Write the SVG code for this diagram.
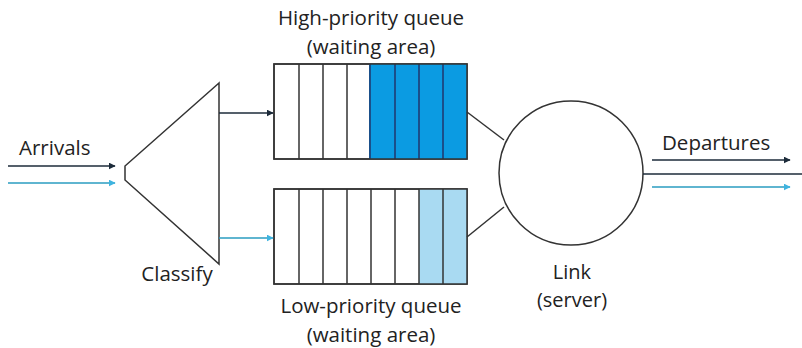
<svg xmlns="http://www.w3.org/2000/svg" width="802" height="348" viewBox="0 0 802 348">
<defs>
<style>
text{font-family:"Open Sans","Liberation Sans",sans-serif;font-size:20.5px;fill:#222}
.c{text-anchor:middle}
.q{font-size:20.5px}
.s{font-size:20px}
.box{fill:#fff;stroke:#333;stroke-width:1.5}
.dk{stroke:#1c2b3a;stroke-width:1.5;fill:none}
.bl{stroke:#2a9cc0;stroke-width:1.5;fill:none}
.sh{stroke:#333;stroke-width:1.5;fill:none}
</style>
<marker id="ad" viewBox="0 0 10 10" refX="9" refY="5" markerWidth="7" markerHeight="7" orient="auto" markerUnits="userSpaceOnUse">
<path d="M0,0 L10,5 L0,10 z" fill="#1c2b3a"/>
</marker>
<marker id="ab" viewBox="0 0 10 10" refX="9" refY="5" markerWidth="7" markerHeight="7" orient="auto" markerUnits="userSpaceOnUse">
<path d="M0,0 L10,5 L0,10 z" fill="#3fb4e0"/>
</marker>
</defs>
<rect width="802" height="348" fill="#fff"/>

<g id="classify">
<path class="sh" d="M219,83 L125,166 L125,180 L219,264 Z"/>
<text class="c" x="177" y="281">Classify</text>
</g>

<g id="high-queue">
<rect class="box" x="274" y="64" width="193" height="95"/>
<rect x="370" y="64" width="97" height="95" fill="#0b9be2"/>
<g class="sh">
<line x1="299" y1="64" x2="299" y2="159"/>
<line x1="323" y1="64" x2="323" y2="159"/>
<line x1="347" y1="64" x2="347" y2="159"/>
</g>
<g stroke="#1a4f8a" stroke-width="2">
<line x1="370" y1="64" x2="370" y2="159"/>
<line x1="395" y1="64" x2="395" y2="159"/>
<line x1="419" y1="64" x2="419" y2="159"/>
<line x1="443" y1="64" x2="443" y2="159"/>
</g>
<rect x="274" y="64" width="193" height="95" fill="none" stroke="#333" stroke-width="1.5"/>
<text class="c q" x="371" y="25">High-priority queue</text>
<text class="c q" x="371" y="54">(waiting area)</text>
</g>

<g id="low-queue">
<rect class="box" x="274" y="189" width="193" height="95"/>
<rect x="419" y="189" width="48" height="95" fill="#a9daf2"/>
<g class="sh">
<line x1="299" y1="189" x2="299" y2="284"/>
<line x1="323" y1="189" x2="323" y2="284"/>
<line x1="347" y1="189" x2="347" y2="284"/>
<line x1="371" y1="189" x2="371" y2="284"/>
<line x1="395" y1="189" x2="395" y2="284"/>
<line x1="419" y1="189" x2="419" y2="284"/>
<line x1="443" y1="189" x2="443" y2="284"/>
</g>
<rect x="274" y="189" width="193" height="95" fill="none" stroke="#333" stroke-width="1.5"/>
<text class="c q" x="371" y="313">Low-priority queue</text>
<text class="c q" x="371" y="342">(waiting area)</text>
</g>

<g id="link">
<circle cx="571" cy="173" r="72" fill="#fff" stroke="#333" stroke-width="1.5"/>
<text class="c s" x="572" y="279">Link</text>
<text class="c s" x="572" y="307">(server)</text>
</g>

<g id="connectors">
<line class="dk" x1="8" y1="166" x2="115" y2="166" marker-end="url(#ad)"/>
<line class="bl" x1="8" y1="183" x2="115" y2="183" marker-end="url(#ab)"/>
<text x="19" y="155">Arrivals</text>
<line class="dk" x1="219" y1="113" x2="273" y2="113" marker-end="url(#ad)"/>
<line class="bl" x1="219" y1="238" x2="273" y2="238" marker-end="url(#ab)"/>
<line class="sh" x1="467" y1="112" x2="504" y2="140"/>
<line class="sh" x1="467" y1="237" x2="504" y2="207"/>
<line class="dk" x1="643" y1="174" x2="802" y2="174"/>
<line class="dk" x1="652" y1="160" x2="790" y2="160" marker-end="url(#ad)"/>
<line class="bl" x1="652" y1="187" x2="790" y2="187" marker-end="url(#ab)"/>
<text x="662" y="150">Departures</text>
</g>
</svg>
